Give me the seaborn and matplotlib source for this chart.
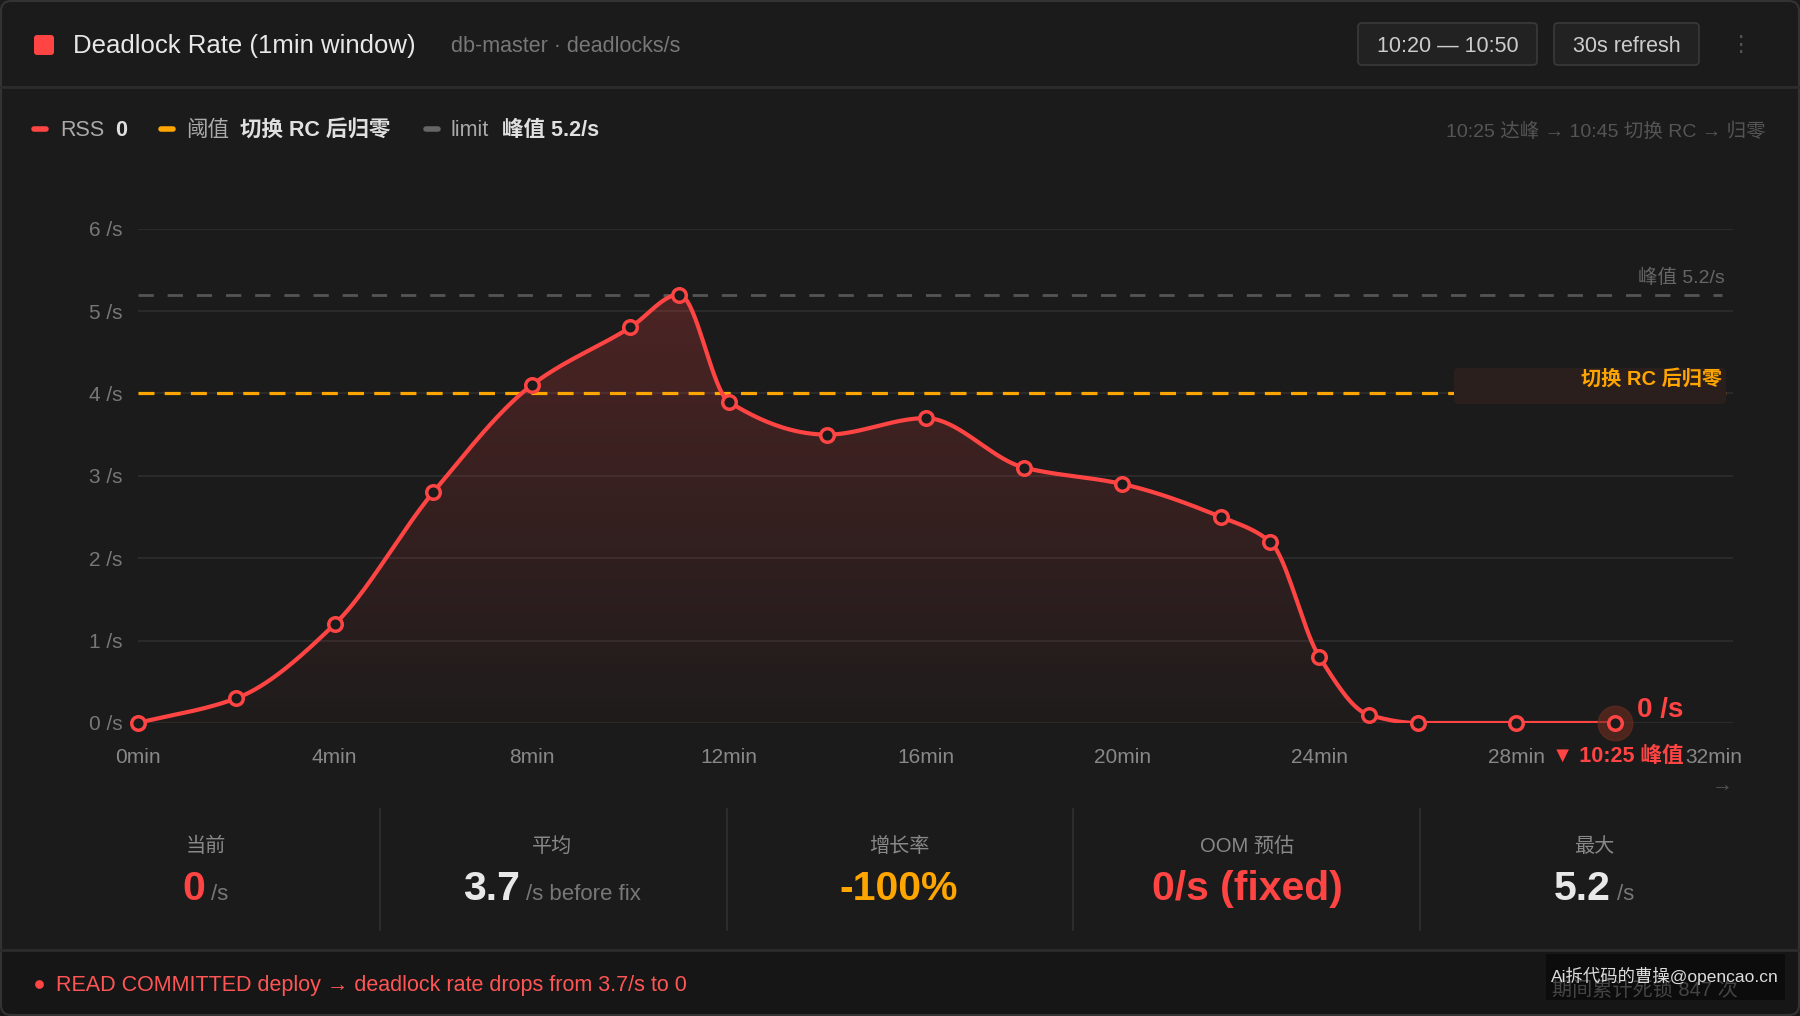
import numpy as np
import pandas as pd
import seaborn as sns
import matplotlib.pyplot as plt
from matplotlib.patches import FancyBboxPatch, Rectangle

# data
minutes = [0, 2, 4, 6, 8, 10, 11, 12, 14, 16, 18, 20, 22, 23, 24, 25, 26, 28, 30]
rate = [0, 0.3, 1.2, 2.8, 4.1, 4.8, 5.2, 3.9, 3.5, 3.7, 3.1, 2.9, 2.5, 2.2, 0.8, 0.1, 0, 0, 0]
x_ticks = [0, 4, 8, 12, 16, 20, 24, 28, 32]
x_labels = [f"{t}min" for t in x_ticks]
y_ticks = [0, 1, 2, 3, 4, 5, 6]
y_labels = [f"{v} /s" for v in y_ticks]
threshold = 4.0
peak = 5.2

stat_titles = ["当前", "平均", "增长率", "OOM 预估", "最大"]
stat_values = ["0", "3.7", "-100%", "0/s (fixed)", "5.2"]
stat_units = ["/s", "/s before fix", "", "", "/s"]
stat_colors = ["#ff4444", "#e8e8e8", "#ffa500", "#ff4444", "#e8e8e8"]

BG = "#1b1b1b"
RED = "#ff4444"
ORANGE = "#ffa500"

sns.set_theme(style="dark")
plt.rcParams["font.family"] = ["Liberation Sans", "Noto Sans CJK SC", "DejaVu Sans"]


def smooth(x, y, n=600):
    # monotone cubic (Fritsch-Carlson) for the drawn curve
    x = np.asarray(x, float)
    y = np.asarray(y, float)
    h = np.diff(x)
    d = np.diff(y) / h
    m = np.zeros_like(y)
    m[0], m[-1] = d[0], d[-1]
    for k in range(1, len(x) - 1):
        if d[k - 1] * d[k] <= 0:
            m[k] = 0
        else:
            w1 = 2 * h[k] + h[k - 1]
            w2 = h[k] + 2 * h[k - 1]
            m[k] = (w1 + w2) / (w1 / d[k - 1] + w2 / d[k])
    xs = np.linspace(x[0], x[-1], n)
    idx = np.clip(np.searchsorted(x, xs) - 1, 0, len(x) - 2)
    t = (xs - x[idx]) / h[idx]
    h00 = 2 * t**3 - 3 * t**2 + 1
    h10 = t**3 - 2 * t**2 + t
    h01 = -2 * t**3 + 3 * t**2
    h11 = t**3 - t**2
    ys = h00 * y[idx] + h10 * h[idx] * m[idx] + h01 * y[idx + 1] + h11 * h[idx] * m[idx + 1]
    return xs, ys


fig = plt.figure(figsize=(18, 10.16), dpi=100, facecolor=BG)

# main chart axes
ax = fig.add_axes([137.8 / 1800, 293 / 1016, (1733 - 137.8) / 1800, (723 - 228.6) / 1016], zorder=1)
ax.set_facecolor("none")

xs, ys = smooth(minutes, rate)
curve = pd.DataFrame({"minute": xs, "rate": ys})
points = pd.DataFrame({"minute": minutes, "rate": rate})

# gradient fill under the curve
img = np.zeros((256, 1, 4))
img[..., 0], img[..., 1], img[..., 2] = 1.0, 0.27, 0.27
img[:, 0, 3] = np.linspace(0.02, 0.25, 256)
im = ax.imshow(img, extent=[0, 32.4, 0, 6], origin="lower", aspect="auto", zorder=1)
poly = ax.fill_between(xs, ys, 0, color="none", lw=0)
im.set_clip_path(poly.get_paths()[0], transform=ax.transData)

ax.axhline(peak, xmax=0.993, color="#555555", lw=2, dashes=(5.5, 5), zorder=2)
ax.axhline(threshold, color=ORANGE, lw=2.3, dashes=(5, 3.2), zorder=2)

sns.lineplot(data=curve, x="minute", y="rate", ax=ax, color=RED, lw=3, zorder=4)
ax.scatter(minutes[-1], rate[-1], s=620, color="#6e2c1f", alpha=0.6, zorder=5, clip_on=False)
sns.scatterplot(data=points, x="minute", y="rate", ax=ax, s=95, color=BG,
                edgecolor=RED, linewidth=2.5, zorder=6, clip_on=False)

ax.set_xlim(0, 32.4)
ax.set_ylim(0, 6)
ax.set_xticks(x_ticks)
ax.set_xticklabels(x_labels)
ax.set_yticks(y_ticks)
ax.set_yticklabels(y_labels)
ax.tick_params(axis="x", colors="#888888", labelsize=15, length=0, pad=18)
ax.tick_params(axis="y", colors="#777777", labelsize=15, length=0, pad=11)
ax.set_xlabel("")
ax.set_ylabel("")
ax.grid(False)
ax.yaxis.grid(True, color="#2c2c2c", lw=1.3)
for s in ax.spines.values():
    s.set_visible(False)

# overlay for the card decorations
ov = fig.add_axes([0, 0, 1, 1], zorder=3)
ov.set_xlim(0, 1800)
ov.set_ylim(1016, 0)
ov.axis("off")
ov.patch.set_alpha(0)

# header
ov.add_patch(FancyBboxPatch((34, 35), 20, 20, boxstyle="round,pad=0,rounding_size=3", fc=RED, ec="none"))
ov.text(73, 46, "Deadlock Rate (1min window)", color="#e8e8e8", fontsize=18.5, va="center")
ov.text(451, 46, "db-master · deadlocks/s", color="#777777", fontsize=15.5, va="center")
for x0, w, label in [(1358, 179, "10:20 — 10:50"), (1554, 145, "30s refresh")]:
    ov.add_patch(FancyBboxPatch((x0, 23), w, 42, boxstyle="round,pad=0,rounding_size=4",
                                fc="#222222", ec="#3a3a3a", lw=1.2))
    ov.text(x0 + w / 2, 46, label, color="#cccccc", fontsize=15.5, ha="center", va="center")
ov.text(1740, 45, "⋮", color="#555555", fontsize=16, ha="center", va="center", family="DejaVu Sans")
ov.plot([0, 1800], [87, 87], color="#2c2c2c", lw=2)

# legend row
for x0, col, lab, val, xl, xv in [(34, RED, "RSS", "0", 60, 115),
                                  (161, ORANGE, "阈值", "切换 RC 后归零", 186, 240),
                                  (426, "#666666", "limit", "峰值 5.2/s", 451, 502)]:
    ov.plot([x0, x0 + 12], [129, 129], color=col, lw=4, solid_capstyle="round")
    ov.text(xl, 131, lab, color="#aaaaaa", fontsize=15.5, va="center")
    ov.text(xv, 131, val, color="#e0e0e0", fontsize=15.5, va="center", fontweight="bold")
ov.text(1766, 132, "10:25 达峰 → 10:45 切换 RC → 归零", color="#555555", fontsize=14,
        ha="right", va="center")

# chart annotations
ov.text(1725, 278, "峰值 5.2/s", color="#666666", fontsize=14, ha="right", va="center")
ov.add_patch(FancyBboxPatch((1454, 368), 272, 36, boxstyle="round,pad=0,rounding_size=4",
                            fc="#2a1f1c", ec="none"))
ov.text(1722, 379, "切换 RC 后归零", color=ORANGE, fontsize=14.5, ha="right", va="center",
        fontweight="bold")
ov.text(1637, 710, "0 /s", color=RED, fontsize=20, ha="left", va="center", fontweight="bold")
ov.text(1552, 757, "▼ 10:25 峰值", color=RED, fontsize=15.5, ha="left", va="center", fontweight="bold")
ov.text(1722, 786, "→", color="#555555", fontsize=15, ha="center", va="center")

# stats row
fig.canvas.draw()
renderer = fig.canvas.get_renderer()
centers = [205.5, 552, 899, 1247, 1594]
for i, cx in enumerate(centers):
    ov.text(cx, 846, stat_titles[i], color="#888888", fontsize=14.5, ha="center", va="center")
    tv = ov.text(cx, 900, stat_values[i], color=stat_colors[i], fontsize=29.5,
                 fontweight="bold", ha="left", va="baseline")
    tu = ov.text(cx, 900, stat_units[i], color="#777777", fontsize=16, ha="left", va="baseline")
    w1 = tv.get_window_extent(renderer).width
    w2 = tu.get_window_extent(renderer).width if stat_units[i] else 0
    gap = 6 if stat_units[i] else 0
    left = cx - (w1 + gap + w2) / 2
    tv.set_x(left)
    tu.set_x(left + w1 + gap)
for sx in [380, 727, 1073, 1420]:
    ov.plot([sx, sx], [809, 930], color="#2c2c2c", lw=1.5)

# footer
ov.add_patch(Rectangle((1, 950), 1798, 65, fc="#161616", ec="none", zorder=0))
ov.plot([0, 1800], [950, 950], color="#2c2c2c", lw=2)
ov.scatter([39], [984], s=28, color=RED)
ov.text(56, 986, "READ COMMITTED deploy → deadlock rate drops from 3.7/s to 0", color="#ff5555",
        fontsize=15.5, va="center")
ov.text(1738, 990, "期间累计死锁 847 次", color="#444444", fontsize=14.5, ha="right", va="center")
ov.add_patch(Rectangle((1546, 954), 239, 46, fc="#0b0b0b", ec="none", alpha=0.9))
ov.text(1665, 976, "Ai拆代码的曹操@opencao.cn", color="#dddddd", fontsize=12.5, ha="center", va="center")

# card border
ov.add_patch(FancyBboxPatch((1, 1), 1798, 1014, boxstyle="round,pad=0,rounding_size=10",
                            fc="none", ec="#333333", lw=1.5))

fig.savefig("out.png", dpi=100, facecolor=BG)
